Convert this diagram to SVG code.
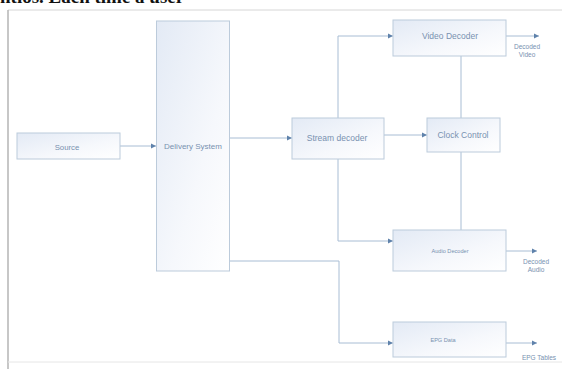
<svg xmlns="http://www.w3.org/2000/svg" width="562" height="369" viewBox="0 0 562 369">
<style>
.box{fill:url(#g);stroke:#bccbdb;stroke-width:1}
.t{font-family:"Liberation Sans",Arial,sans-serif;fill:#7891b0;text-anchor:middle}
.c{fill:none;stroke:#a8bdd4;stroke-width:1}
.frame{fill:none;stroke:#d6d6d6;stroke-width:1}
</style>
<defs>
<linearGradient id="g" x1="0" y1="0" x2="1" y2="1">
<stop offset="0" stop-color="#e3eaf5"/>
<stop offset="0.6" stop-color="#f6f8fc"/>
<stop offset="1" stop-color="#ffffff"/>
</linearGradient>
<marker id="a" markerWidth="6" markerHeight="6" refX="5" refY="3" orient="auto" markerUnits="userSpaceOnUse">
<path d="M0,0.5 L5,3 L0,5.5 Z" fill="#5f82ab"/>
</marker>
</defs>
<rect width="562" height="369" fill="#ffffff"/>
<text x="0" y="3" font-family="'Liberation Serif',serif" font-weight="bold" font-size="19" fill="#111">ntios. Each time a user</text>
<line x1="8" y1="10" x2="562" y2="10" class="frame"/>
<line x1="8" y1="10" x2="8" y2="369" stroke="#b5b5b5" stroke-width="1.5"/>
<line x1="8" y1="362" x2="562" y2="362" stroke="#e6e6e6" stroke-width="1"/>

<g id="connectors">
<line x1="120" y1="146" x2="156" y2="146" class="c" marker-end="url(#a)"/>
<line x1="230" y1="138" x2="292" y2="138" class="c" marker-end="url(#a)"/>
<line x1="384" y1="135" x2="427" y2="135" class="c" marker-end="url(#a)"/>
<polyline points="338,118 338,36 393,36" class="c" marker-end="url(#a)"/>
<polyline points="338,159 338,241 393,241" class="c" marker-end="url(#a)"/>
<polyline points="230,261 339,261 339,343 393,343" class="c" marker-end="url(#a)"/>
<line x1="461" y1="56" x2="461" y2="118" class="c"/>
<line x1="461" y1="152" x2="461" y2="230" class="c"/>
<line x1="506" y1="36" x2="539" y2="36" class="c" marker-end="url(#a)"/>
<line x1="506" y1="251" x2="537" y2="251" class="c" marker-end="url(#a)"/>
<line x1="506" y1="343" x2="537" y2="343" class="c" marker-end="url(#a)"/>
</g>

<g id="source">
<rect x="17" y="133" width="103" height="26" class="box"/>
<text x="67" y="149.5" class="t" font-size="7.8">Source</text>
</g>
<g id="delivery">
<rect x="156.5" y="21" width="73" height="250" class="box"/>
<text x="193" y="149" class="t" font-size="8">Delivery System</text>
</g>
<g id="stream">
<rect x="292" y="118" width="92" height="41" class="box"/>
<text x="337" y="141" class="t" font-size="8.5">Stream decoder</text>
</g>
<g id="clock">
<rect x="427" y="118" width="73" height="34" class="box"/>
<text x="463" y="138" class="t" font-size="8.5">Clock Control</text>
</g>
<g id="video">
<rect x="393" y="20" width="113" height="36" class="box"/>
<text x="450" y="39" class="t" font-size="8.5">Video Decoder</text>
</g>
<g id="audio">
<rect x="393" y="230" width="113" height="41" class="box"/>
<text x="450" y="253" class="t" font-size="5.6">Audio Decoder</text>
</g>
<g id="epg">
<rect x="393" y="322" width="113" height="35" class="box"/>
<text x="443" y="342" class="t" font-size="5.6">EPG Data</text>
</g>
<g id="out-video">
<text x="527" y="49" class="t" font-size="6.5">Decoded</text>
<text x="527" y="56.5" class="t" font-size="6.5">Video</text>
</g>
<g id="out-audio">
<text x="536" y="264" class="t" font-size="6.5">Decoded</text>
<text x="536" y="272" class="t" font-size="6.5">Audio</text>
</g>
<g id="out-epg">
<text x="539" y="360" class="t" font-size="6.5">EPG Tables</text>
</g>
</svg>
